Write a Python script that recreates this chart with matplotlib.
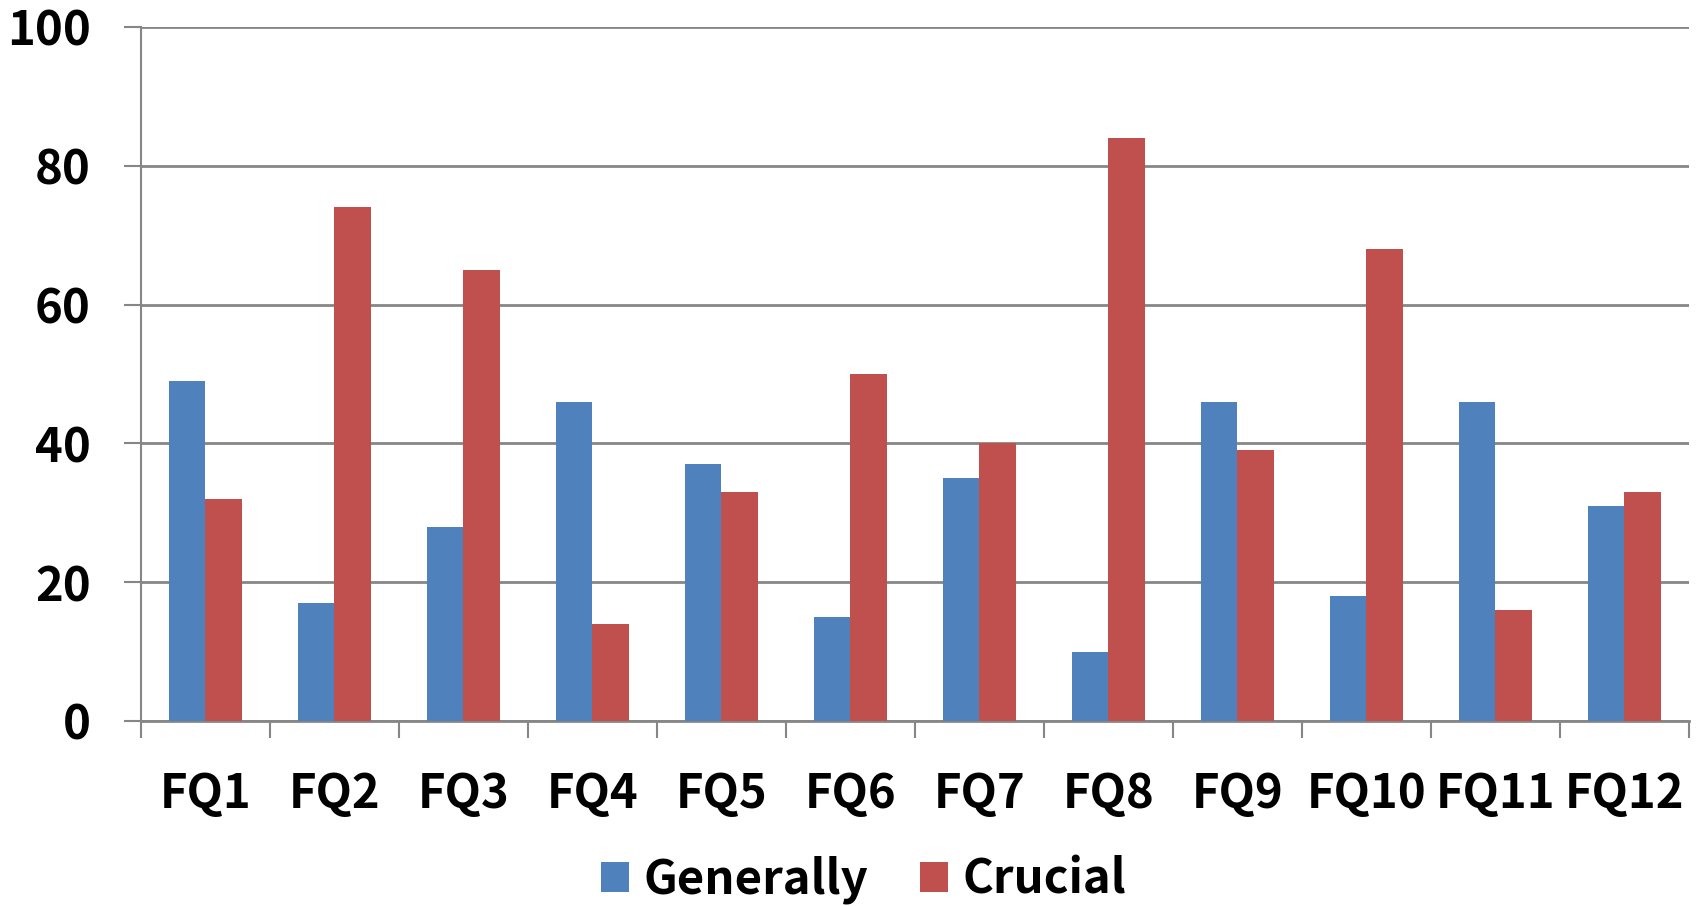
import numpy as np
import matplotlib
matplotlib.use('Agg')
import matplotlib.pyplot as plt
from matplotlib.ticker import FixedLocator

plt.rcParams['font.family'] = ['Noto Sans CJK KR', 'DejaVu Sans']
plt.rcParams['font.weight'] = 'bold'

categories = ['FQ1', 'FQ2', 'FQ3', 'FQ4', 'FQ5', 'FQ6', 'FQ7', 'FQ8', 'FQ9', 'FQ10', 'FQ11', 'FQ12']
generally = [49, 17, 28, 46, 37, 15, 35, 10, 46, 18, 46, 31]
crucial = [32, 74, 65, 14, 33, 50, 40, 84, 39, 68, 16, 33]

blue = '#4F81BD'
red = '#C0504D'
grid_c = '#868686'

fig = plt.figure(figsize=(17, 9.06), dpi=100)
ax = fig.add_axes([0.0829, 0.2042, 0.9106, 0.766])

x = np.arange(len(categories))
w = 1 / 3.5
ax.bar(x - w / 2, generally, w, color=blue, label='Generally', zorder=3)
ax.bar(x + w / 2, crucial, w, color=red, label='Crucial', zorder=3)

ax.set_xlim(-0.5, len(categories) - 0.5)
ax.set_ylim(0, 100)
ax.set_yticks([0, 20, 40, 60, 80, 100])
ax.yaxis.grid(True, color=grid_c, linewidth=2, zorder=0)
ax.set_axisbelow(True)

ax.set_xticks(x)
ax.set_xticklabels(categories)
ax.xaxis.set_minor_locator(FixedLocator(np.arange(-0.5, len(categories), 1)))
ax.tick_params(axis='x', which='major', length=0, pad=35, labelsize=34)
ax.tick_params(axis='x', which='minor', length=12, width=1.5, color=grid_c)
ax.tick_params(axis='y', length=12, width=1.5, color=grid_c, pad=24, labelsize=34)

for s in ['top', 'right']:
    ax.spines[s].set_visible(False)
ax.spines['left'].set_color(grid_c)
ax.spines['left'].set_linewidth(1.5)
ax.spines['bottom'].set_color(grid_c)
ax.spines['bottom'].set_linewidth(2)

fig.legend(loc='center', bbox_to_anchor=(0.508, 0.029), ncol=2, frameon=False,
           fontsize=34, handlelength=0.6, handleheight=0.6, handletextpad=0.3,
           columnspacing=1.1)

fig.savefig('out.png', dpi=100)
